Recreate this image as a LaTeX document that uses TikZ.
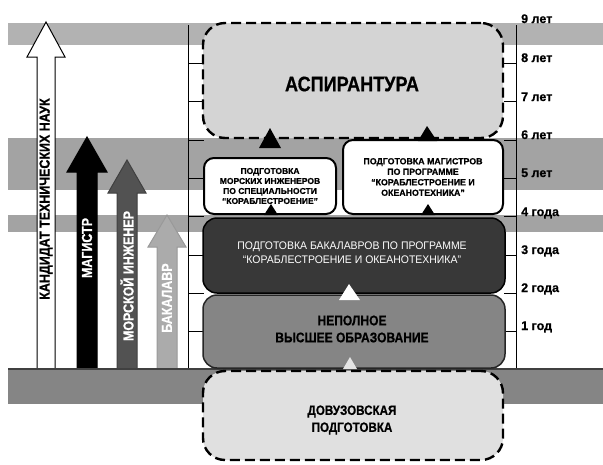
\documentclass[tikz,border=0pt]{standalone}
\usepackage{fontspec}
\setmainfont{Liberation Sans}
\newfontfamily\cond[FakeStretch=0.95]{Liberation Sans}
\newfontfamily\condb[FakeStretch=0.86, FakeBold=0.6]{Liberation Sans Bold}
\newfontfamily\plainb[FakeBold=0.6]{Liberation Sans Bold}
\usetikzlibrary{calc}
\tikzset{
  band/.style={fill=black!36},
  scaleline/.style={line width=0.8pt},
  yearlbl/.style={anchor=base west, inner sep=0pt, font=\plainb\fontsize{12.5}{12.5}\selectfont},
  dashbox/.style={draw, line width=2.4pt, dash pattern=on 10pt off 5pt, rounded corners=22pt, fill=black!17, inner sep=0pt},
  whitebox/.style={draw, line width=2pt, rounded corners=10pt, fill=white, align=center, inner sep=0pt},
  darkbox/.style={draw, line width=1.5pt, rounded corners=14pt, fill=black!78, inner sep=0pt},
  midbox/.style={draw=black!85, line width=1.5pt, rounded corners=14pt, fill=black!48, inner sep=0pt},
  boxtext/.style={align=center, inner sep=0pt, font=\condb\fontsize{14}{17}\selectfont},
  arrowlbl/.style={rotate=90, inner sep=0pt, font=\condb\fontsize{14.5}{15}\selectfont},
  arrowshape/.style={line width=1pt, draw=black},
}
\begin{document}
\begin{tikzpicture}[x=1pt,y=-1pt]
\useasboundingbox (0,0) rectangle (603,464);
\fill[white] (0,0) rectangle (603,464);

% background bands
\fill[band, fill=black!30] (8,23) rectangle (603,45);
\fill[band] (8,138) rectangle (603,190);
\fill[band] (8,215) rectangle (603,232);

% year scale lines and ticks
\draw[scaleline] (188,25) -- (188,370);
\draw[scaleline] (516,25) -- (516,370);
\foreach \k in {1,...,8} {
  \pgfmathsetmacro\yy{370-38.33*\k}
  \draw[scaleline] (188,\yy) -- (204,\yy);
  \draw[scaleline] (504,\yy) -- (516,\yy);
}

% year labels
\node[yearlbl] (y9) at (521,23) {9 лет};
\node[yearlbl] (y8) at (521,62) {8 лет};
\node[yearlbl] (y7) at (521,101) {7 лет};
\node[yearlbl] (y6) at (521,139) {6 лет};
\node[yearlbl] (y5) at (521,177) {5 лет};
\node[yearlbl] (y4) at (521,216) {4 года};
\node[yearlbl] (y3) at (521,254) {3 года};
\node[yearlbl] (y2) at (521,292) {2 года};
\node[yearlbl] (y1) at (521,330) {1 год};

% left upward arrows
\draw[arrowshape, fill=white] (37,370) -- (37,57) -- (27,57) -- (46,22) -- (65,57) -- (55,57) -- (55,370) -- cycle;
\draw[arrowshape, fill=black] (77,370) -- (77,172) -- (67,172) -- (87,137) -- (107,172) -- (97,172) -- (97,370) -- cycle;
\draw[arrowshape, draw=black!75, fill=black!68] (117,370) -- (117,193) -- (108,193) -- (127,160) -- (146,193) -- (137,193) -- (137,370) -- cycle;
\draw[arrowshape, draw=black!40, fill=black!33] (157,370) -- (157,247) -- (148,247) -- (167,215) -- (186,247) -- (177,247) -- (177,370) -- cycle;

\node[arrowlbl] (kand) at (46,199) {КАНДИДАТ ТЕХНИЧЕСКИХ НАУК};
\node[arrowlbl, text=white] (mag) at (87,248) {МАГИСТР};
\node[arrowlbl, text=white] (mor) at (127,276) {МОРСКОЙ ИНЖЕНЕР};
\node[arrowlbl, text=white] (bak) at (167,298) {БАКАЛАВР};

% bottom band
\fill[black!48] (8,369) rectangle (603,404);
\draw[line width=1.5pt, black!75] (8,369) -- (603,369);

% boxes
\node[dashbox, minimum width=300pt, minimum height=115pt] (asp) at (353,80.5) {};
\node[font=\condb\fontsize{21}{21}\selectfont, inner sep=0pt] (asptxt) at (352,84) {АСПИРАНТУРА};

\node[whitebox, minimum width=132pt, minimum height=56pt, font=\plainb\fontsize{8.5}{10}\selectfont] (lbox) at (270,186)
  {ПОДГОТОВКА\\МОРСКИХ ИНЖЕНЕРОВ\\ПО СПЕЦИАЛЬНОСТИ\\\char"201CКОРАБЛЕСТРОЕНИЕ\char"201D};
\node[whitebox, minimum width=160pt, minimum height=74pt, font=\plainb\fontsize{8.8}{10.5}\selectfont] (rbox) at (423,177)
  {ПОДГОТОВКА МАГИСТРОВ\\ПО ПРОГРАММЕ\\\char"201CКОРАБЛЕСТРОЕНИЕ И\\ОКЕАНОТЕХНИКА\char"201D};

\node[darkbox, minimum width=302pt, minimum height=75pt] (bbox) at (354,255.5) {};
\node[font=\cond\fontsize{11}{14}\selectfont, text=white, align=center, inner sep=0pt] (btxt) at (352,253)
  {ПОДГОТОВКА БАКАЛАВРОВ ПО ПРОГРАММЕ\\\char"201CКОРАБЛЕСТРОЕНИЕ И ОКЕАНОТЕХНИКА\char"201D};

\node[midbox, minimum width=302pt, minimum height=73pt] (nbox) at (354,331.5) {};
\node[boxtext] (ntxt) at (352,329) {НЕПОЛНОЕ\\ВЫСШЕЕ ОБРАЗОВАНИЕ};

\node[dashbox, fill=black!12, minimum width=300pt, minimum height=89pt] (dbox) at (353,415.5) {};
\node[boxtext, font=\condb\fontsize{13.5}{17}\selectfont] (dtxt) at (352,420) {ДОВУЗОВСКАЯ\\ПОДГОТОВКА};

% small triangles (arrowheads between stages)
\fill (259,148) -- (270,128) -- (281,148) -- cycle;
\fill (418,141) -- (427,126) -- (437,141) -- cycle;
\fill (264,215) -- (271,204) -- (278,215) -- cycle;
\fill (421,215) -- (428,204) -- (435,215) -- cycle;
\fill[white] (339,300) -- (349,284) -- (360,300) -- cycle;
\fill[black!10] (343,369) -- (350,357) -- (357,369) -- cycle;
\end{tikzpicture}
\end{document}
